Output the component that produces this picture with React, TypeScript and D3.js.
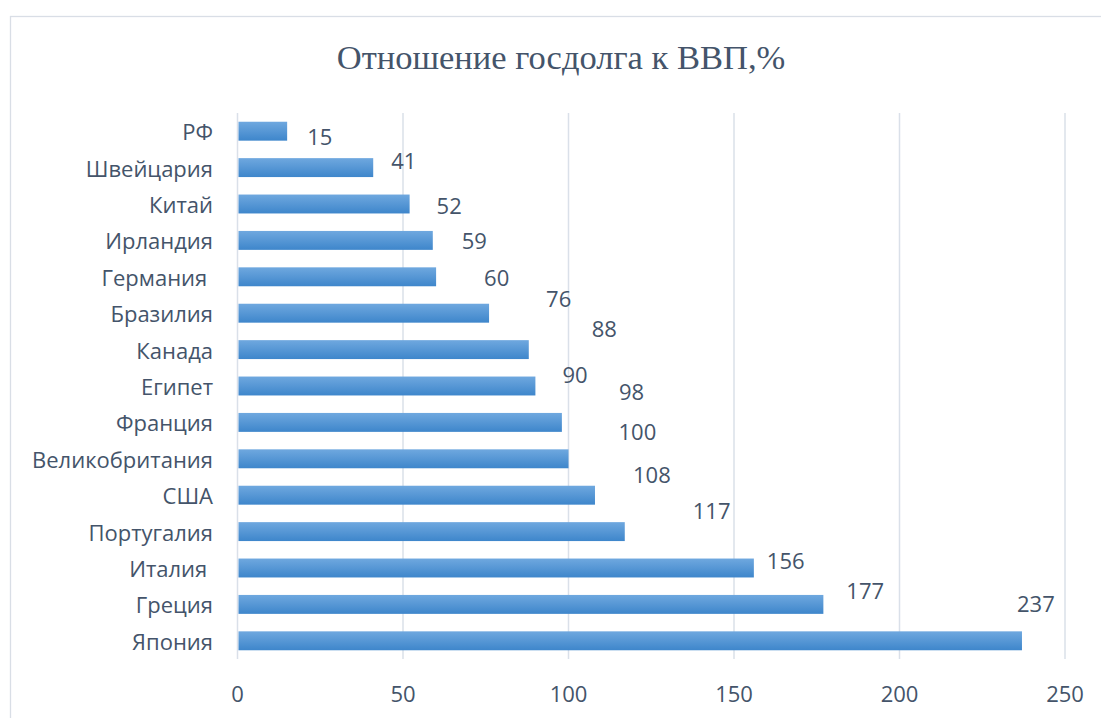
import React from "react";
import * as d3 from "d3";

const categories = [
  "РФ",
  "Швейцария",
  "Китай",
  "Ирландия",
  "Германия ",
  "Бразилия",
  "Канада",
  "Египет",
  "Франция",
  "Великобритания",
  "США",
  "Португалия",
  "Италия ",
  "Греция",
  "Япония",
];
const values = [15, 41, 52, 59, 60, 76, 88, 90, 98, 100, 108, 117, 156, 177, 237];
const xTicks = [0, 50, 100, 150, 200, 250];
const title = "Отношение госдолга к ВВП,%";

// manual data-label displacement (as in the source chart), px from bar end / band centre
const labelDx = [20, 18, 27, 29, 48, 57, 63, 27, 57, 50, 38, 68, 13, 23, -5];
const labelDy = [5, -8, 1, 0, 0, -15, -22, -12, -31, -28, -21, -22, -8, -14, -38];

const W = 1101;
const H = 718;
const TEXT = "#44546a";
const GRID = "#dae0e9";

export default function App() {
  const x = d3.scaleLinear().domain([0, 250]).range([237.5, 1065]);
  const y = d3
    .scaleBand<string>()
    .domain(categories)
    .range([113, 659])
    .paddingInner(0.48)
    .paddingOuter(0.24);
  const bw = y.bandwidth();

  return (
    <svg
      width={W}
      height={H}
      style={{ position: "absolute", left: 0, top: 0, background: "#fff" }}
    >
      <defs>
        <linearGradient id="barGrad" x1="0" y1="0" x2="0" y2="1">
          <stop offset="0%" stopColor="#6fa8df" />
          <stop offset="100%" stopColor="#3e86cb" />
        </linearGradient>
      </defs>
      <rect x={10.5} y={16.5} width={1120} height={720} fill="#fff" stroke="#d9dee6" strokeWidth={1.3} />
      <text
        x={561}
        y={69}
        textAnchor="middle"
        fontFamily="'Liberation Serif', 'Times New Roman', serif"
        fontSize={34.5}
        fill={TEXT}
      >
        {title}
      </text>
      {xTicks.map((t) => (
        <line key={"g" + t} x1={x(t)} x2={x(t)} y1={113} y2={659} stroke={GRID} strokeWidth={1.5} />
      ))}
      {xTicks.map((t) => (
        <text
          key={"t" + t}
          x={x(t)}
          y={693}
          textAnchor="middle"
          dominantBaseline="central"
          fontFamily="'Open Sans', sans-serif"
          fontSize={22}
          fill={TEXT}
        >
          {t}
        </text>
      ))}
      {categories.map((c, i) => {
        const yc = (y(c) as number) + bw / 2;
        return (
          <g key={c}>
            <rect x={x(0) + 1} y={y(c)} width={x(values[i]) - x(0) - 1} height={bw} fill="url(#barGrad)" />
            <text
              x={213}
              y={yc}
              textAnchor="end"
              dominantBaseline="central"
              fontFamily="'Open Sans', sans-serif"
              fontSize={22}
              fill={TEXT}
              style={{ whiteSpace: "pre" }}
            >
              {c}
            </text>
            <text
              x={x(values[i]) + labelDx[i]}
              y={yc + labelDy[i]}
              dominantBaseline="central"
              fontFamily="'Open Sans', sans-serif"
              fontSize={22}
              fill={TEXT}
            >
              {values[i]}
            </text>
          </g>
        );
      })}
    </svg>
  );
}
